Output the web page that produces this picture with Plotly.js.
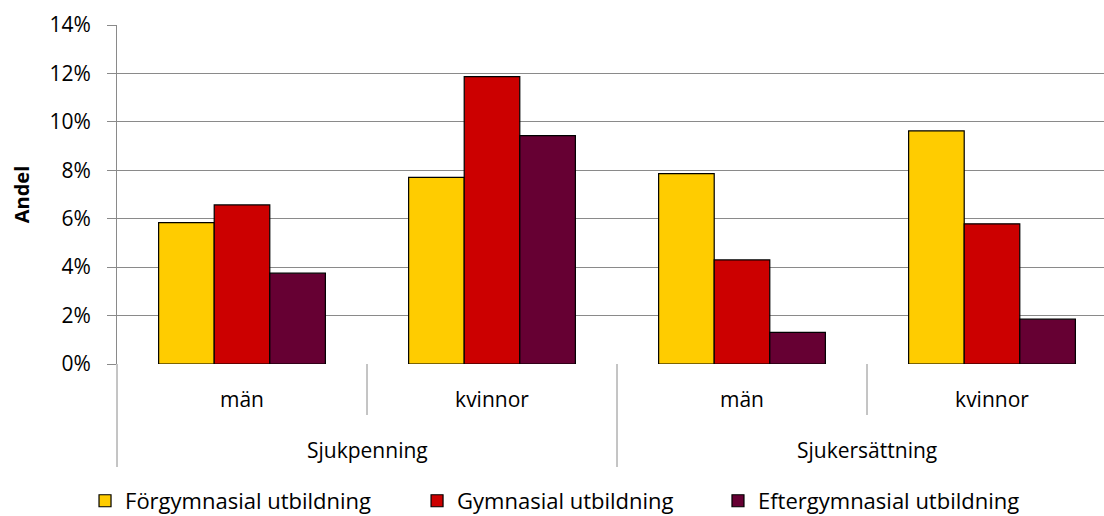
<!DOCTYPE html>
<html><head><meta charset="utf-8">
<script src="https://cdn.plot.ly/plotly-3.0.1.min.js"></script>
<style>html,body{margin:0;padding:0;background:#fff}#chart{width:1104px;height:516px}</style>
</head><body><div id="chart"></div>
<script>
var outerCats = ["Sjukpenning", "Sjukpenning", "Sjukersättning", "Sjukersättning"];
var innerCats = ["män", "kvinnor", "män", "kvinnor"];
var seriesNames = ["Förgymnasial utbildning", "Gymnasial utbildning", "Eftergymnasial utbildning"];
var forgymnasial = [5.84, 7.71, 7.86, 9.63];
var gymnasial = [6.57, 11.87, 4.30, 5.79];
var eftergymnasial = [3.75, 9.43, 1.31, 1.85];
var colors = ["#FFCC00", "#CC0000", "#660033"];
var yTicks = [0, 2, 4, 6, 8, 10, 12, 14];

var FONT = "'Open Sans', Lato, sans-serif";
var GRID = "#8a8a8a";
var idx = innerCats.map(function (_, i) { return i; });
var seriesVals = [forgymnasial, gymnasial, eftergymnasial];
var legendIds = ["legend", "legend2", "legend3"];
var traces = seriesVals.map(function (v, i) {
  return {
    type: "bar", name: seriesNames[i], legend: legendIds[i],
    x: idx, y: v,
    marker: {color: colors[i], line: {color: "#000", width: 1.2}},
    hoverinfo: "skip"
  };
});

// separators and outer group labels, derived from the category arrays
var shapes = [], annotations = [];
var groups = [];
outerCats.forEach(function (g, i) {
  if (!groups.length || groups[groups.length - 1].name !== g) groups.push({name: g, start: i, end: i});
  else groups[groups.length - 1].end = i;
});
var PH = 339; // plot height in px
groups.forEach(function (g, gi) {
  var x0 = g.start - 0.5;
  shapes.push({type: "line", xref: gi === 0 ? "paper" : "x", yref: "paper",
               x0: gi === 0 ? 0 : x0, x1: gi === 0 ? 0 : x0, y0: 0, y1: -103 / PH,
               line: {color: GRID, width: 1}});
  for (var k = g.start + 1; k <= g.end; k++) {
    shapes.push({type: "line", xref: "x", yref: "paper", x0: k - 0.5, x1: k - 0.5,
                 y0: 0, y1: -51 / PH, line: {color: GRID, width: 1}});
  }
  annotations.push({text: g.name, xref: "x", yref: "paper", x: (g.start + g.end) / 2,
                    y: -86 / PH, xanchor: "center", yanchor: "middle", showarrow: false,
                    font: {family: FONT, size: 21, color: "#000"}});
});
shapes.push({type: "line", xref: "x", yref: "paper", x0: groups[groups.length-1].end + 0.5,
             x1: groups[groups.length-1].end + 0.5, y0: 0, y1: -103 / PH, line: {color: GRID, width: 1}});

function legendAt(x) {
  return {orientation: "h", x: x, xanchor: "left", y: -0.404, yanchor: "middle",
          font: {family: FONT, size: 22, color: "#000"}, itemwidth: 30,
          bgcolor: "rgba(0,0,0,0)", borderwidth: 0};
}

var layout = {
  width: 1104, height: 516,
  margin: {l: 117, r: 0, t: 25, b: 152, autoexpand: false},
  paper_bgcolor: "#fff", plot_bgcolor: "#fff",
  font: {family: FONT, size: 21, color: "#000"},
  barmode: "group", bargap: 0.333, bargroupgap: 0,
  showlegend: true,
  legend: legendAt(-0.0324),
  legend2: legendAt(0.3040),
  legend3: legendAt(0.6089),
  shapes: shapes, annotations: annotations,
  xaxis: {range: [-0.5, 3.448], tickvals: idx, ticktext: innerCats, ticks: "",
          ticklabelstandoff: 21, showline: false, showgrid: false, zeroline: false,
          tickfont: {family: FONT, size: 21, color: "#000"}},
  yaxis: {range: [0, 14], tickvals: yTicks, ticktext: yTicks.map(function(t){return t + "%";}),
          showline: true, linecolor: GRID, linewidth: 1,
          ticks: "outside", ticklen: 9, tickcolor: GRID,
          ticklabelstandoff: 12,
          showgrid: true, gridcolor: GRID, gridwidth: 1, zeroline: false,
          tickfont: {family: FONT, size: 21, color: "#000"},
          title: {text: "<b>Andel</b>", font: {family: FONT, size: 20, color: "#000"}, standoff: 14}}
};
Plotly.newPlot("chart", traces, layout, {displayModeBar: false, staticPlot: true});
</script></body></html>
